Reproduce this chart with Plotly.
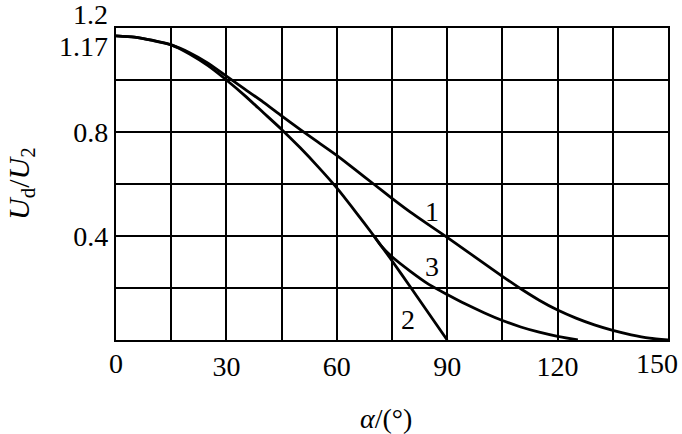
import plotly.graph_objects as go

# ---- data ----
alpha_1 = [0, 5, 10, 15, 20, 25, 30, 35, 40, 45, 50, 55, 60, 65, 70, 75, 80, 85, 90,
           95, 100, 105, 110, 115, 120, 125, 130, 135, 140, 145, 150]
ud_1 = [1.17, 1.165, 1.152, 1.135, 1.105, 1.065, 1.015, 0.965, 0.915, 0.862, 0.81, 0.76,
        0.71, 0.655, 0.6, 0.545, 0.492, 0.443, 0.395, 0.345, 0.295, 0.245, 0.197, 0.153,
        0.115, 0.084, 0.058, 0.037, 0.02, 0.007, 0.0]

alpha_2 = [0, 5, 10, 15, 20, 25, 30, 35, 40, 45, 50, 55, 60, 65, 70, 75, 80, 85, 90]
ud_2 = [1.17, 1.165, 1.152, 1.135, 1.1, 1.055, 1.0, 0.94, 0.875, 0.81, 0.74, 0.665,
        0.585, 0.495, 0.402, 0.305, 0.204, 0.102, 0.0]

alpha_3 = [70, 72, 75, 80, 85, 90, 95, 100, 105, 110, 115, 120, 125.5]
ud_3 = [0.402, 0.363, 0.32, 0.264, 0.214, 0.175, 0.138, 0.105, 0.075, 0.05, 0.03, 0.014, 0.0]

x_grid = [15, 30, 45, 60, 75, 90, 105, 120, 135, 150]
x_labels = ["", "30", "", "60", "", "90", "", "120", "", ""]
y_grid = [0.2, 0.4, 0.6, 0.8, 1.0, 1.2]
y_labels = ["", "0.4", "", "0.8", "", ""]

curve_names = ["1", "2", "3"]
curve_label_pos = [(85.8, 0.493), (79.3, 0.077), (85.8, 0.282)]

FONT = "Liberation Serif, Times New Roman, serif"
FS = 28

fig = go.Figure()
for xs, ys in [(alpha_1, ud_1), (alpha_2, ud_2), (alpha_3, ud_3)]:
    fig.add_trace(go.Scatter(x=xs, y=ys, mode="lines",
                             line=dict(color="black", width=2.8, shape="spline", smoothing=0.6),
                             hoverinfo="skip", showlegend=False))

for name, (lx, ly) in zip(curve_names, curve_label_pos):
    fig.add_annotation(x=lx, y=ly, text=name, showarrow=False,
                       font=dict(family=FONT, size=FS, color="black"))

# y labels 1.2 and 1.17 (offset from their grid positions as in the reference)
fig.add_annotation(x=0, xref="x", y=1.2, text="1.2", showarrow=False, xanchor="right",
                   xshift=-6, yshift=14, font=dict(family=FONT, size=FS, color="black"))
fig.add_annotation(x=0, xref="x", y=1.17, text="1.17", showarrow=False, xanchor="right",
                   xshift=-6, yshift=-11, font=dict(family=FONT, size=FS, color="black"))
# x labels 0 and 150
fig.add_annotation(x=0, y=0, text="0", showarrow=False, yanchor="top",
                   yshift=-6, font=dict(family=FONT, size=FS, color="black"))
fig.add_annotation(x=150, y=0, text="150", showarrow=False, yanchor="top", xanchor="right",
                   xshift=12, yshift=-6, font=dict(family=FONT, size=FS, color="black"))

# axis titles
fig.add_annotation(xref="paper", yref="paper", x=(386 - 116) / 552, y=(340 - 418) / 312,
                   xanchor="center", yanchor="middle",
                   text="<i>α</i>/(°)", showarrow=False,
                   font=dict(family=FONT, size=FS, color="black"))
fig.add_annotation(xref="paper", yref="paper", x=(21 - 116) / 552, y=(340 - 184) / 312,
                   xanchor="center", yanchor="middle",
                   text="<i>U</i><sub>d</sub>/<i>U</i><sub>2</sub>", showarrow=False,
                   textangle=-90, font=dict(family=FONT, size=30, color="black"))

fig.update_layout(
    width=682, height=434,
    margin=dict(l=116, r=14, t=28, b=94),
    paper_bgcolor="white", plot_bgcolor="white",
    font=dict(family=FONT, size=FS, color="black"),
    xaxis=dict(range=[0, 150], tickvals=x_grid, ticktext=x_labels, showgrid=True,
               gridcolor="black", gridwidth=1.6, showline=True, linecolor="black",
               linewidth=2.2, mirror=True, zeroline=False, ticks="", fixedrange=True),
    yaxis=dict(range=[0, 1.2], tickvals=y_grid, ticktext=y_labels, showgrid=True,
               gridcolor="black", gridwidth=1.6, showline=True, linecolor="black",
               linewidth=2.2, mirror=True, zeroline=False, ticks="", fixedrange=True),
)

fig.write_html("out.html", config={"displayModeBar": False},
               post_script="document.body.style.margin='0';document.body.style.padding='0';")
